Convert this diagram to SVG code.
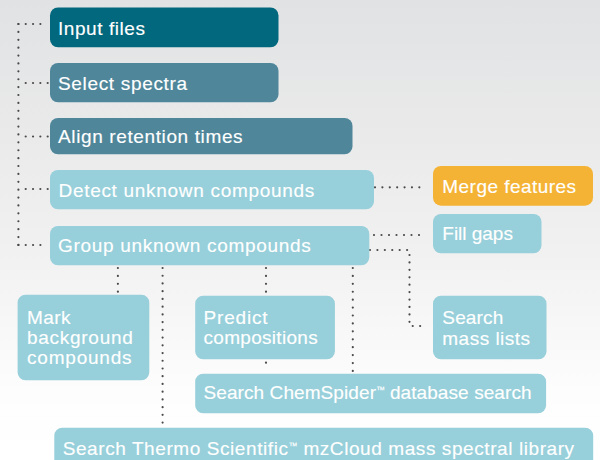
<svg xmlns="http://www.w3.org/2000/svg" width="600" height="460" viewBox="0 0 600 460">
  <defs>
    <linearGradient id="bg" x1="0" y1="0" x2="0" y2="1">
      <stop offset="0" stop-color="#e1e2e3"/>
      <stop offset="0.55" stop-color="#f1f1f1"/>
      <stop offset="0.85" stop-color="#fdfdfd"/>
      <stop offset="1" stop-color="#ffffff"/>
    </linearGradient>
  </defs>
  <style>
    .box { stroke: none; }
    .dark { fill: #02687e; }
    .mid { fill: #4f869a; }
    .light { fill: #97cfda; }
    .orange { fill: #f5b335; }
    text { font-family: "Liberation Sans", Arial, Helvetica, sans-serif; font-size: 19px; fill: #ffffff; letter-spacing: 0.6px; stroke: #ffffff; stroke-width: 0.15; }
    .tm { font-size: 9px; letter-spacing: 0; }
    .dot { fill: none; stroke: #4a4a4a; stroke-width: 2.2; stroke-linecap: round; stroke-dasharray: 0 7.7; }
  </style>

  <rect x="0" y="0" width="600" height="460" fill="url(#bg)"/>

  <!-- dotted connectors -->
  <g id="connectors">
    <path class="dot" style="stroke-dasharray:0 7.89" d="M18.4 24 V245"/>
    <path class="dot" style="stroke-dasharray:0 7.33" d="M18.4 24 H47.7"/>
    <path class="dot" style="stroke-dasharray:0 7.33" d="M25.7 83 H47.7"/>
    <path class="dot" style="stroke-dasharray:0 7.33" d="M25.7 136.5 H47.7"/>
    <path class="dot" style="stroke-dasharray:0 7.33" d="M25.7 189 H47.7"/>
    <path class="dot" style="stroke-dasharray:0 7.33" d="M18.4 245 H47.7"/>
    <path class="dot" style="stroke-dasharray:0 7.39" d="M375 187.3 H426.7"/>
    <path class="dot" style="stroke-dasharray:0 7.5" d="M374 235 H426.5"/>
    <path class="dot" style="stroke-dasharray:0 7.42" d="M370 250 H409.5 V326 H427.5"/>
    <path class="dot" style="stroke-dasharray:0 7.9" d="M117.9 268 V291.7"/>
    <path class="dot" style="stroke-dasharray:0 7.73" d="M162.6 268 V422.7"/>
    <path class="dot" style="stroke-dasharray:0 7.9" d="M266 268 V291.7"/>
    <path class="dot" style="stroke-dasharray:0 7.92" d="M352.8 268 V371"/>
    <path class="dot" style="stroke-dasharray:0 7.3" d="M266 362.7 V370"/>
  </g>

  <g id="input-files">
    <rect class="box dark" x="50" y="7.5" width="228.5" height="39.8" rx="8"/>
    <text x="58" y="34.5" textLength="87.6">Input files</text>
  </g>

  <g id="select-spectra">
    <rect class="box mid" x="50" y="63" width="228.5" height="39.3" rx="8"/>
    <text x="58" y="89.5" textLength="129.7">Select spectra</text>
  </g>

  <g id="align-retention-times">
    <rect class="box mid" x="50" y="118" width="302.5" height="36.3" rx="8"/>
    <text x="58" y="142.7" textLength="185.2">Align retention times</text>
  </g>

  <g id="detect-unknown-compounds">
    <rect class="box light" x="50" y="170" width="324" height="39.3" rx="8"/>
    <text x="58.5" y="196.7" textLength="256.4">Detect unknown compounds</text>
  </g>

  <g id="merge-features">
    <rect class="box orange" x="433" y="166" width="160" height="39.7" rx="8"/>
    <text x="442.3" y="193.3" textLength="134.3">Merge features</text>
  </g>

  <g id="group-unknown-compounds">
    <rect class="box light" x="50" y="226" width="319.3" height="39.3" rx="8"/>
    <text x="58" y="252.3" textLength="253.3">Group unknown compounds</text>
  </g>

  <g id="fill-gaps">
    <rect class="box light" x="433" y="214" width="108.5" height="39.3" rx="8"/>
    <text x="442.3" y="240" textLength="71.2">Fill gaps</text>
  </g>

  <g id="mark-background-compounds">
    <rect class="box light" x="17.6" y="294.7" width="131.7" height="85.6" rx="8"/>
    <text x="27" y="324" textLength="44">Mark</text>
    <text x="27" y="344.3" textLength="106.4">background</text>
    <text x="27" y="364.3" textLength="105.2">compounds</text>
  </g>

  <g id="predict-compositions">
    <rect class="box light" x="195.2" y="295.7" width="139.7" height="63.6" rx="8"/>
    <text x="203.5" y="324.3" textLength="64.7">Predict</text>
    <text x="203.5" y="344.3" textLength="114.8">compositions</text>
  </g>

  <g id="search-mass-lists">
    <rect class="box light" x="433" y="295.7" width="113.5" height="63.6" rx="8"/>
    <text x="442.3" y="324" textLength="61.6">Search</text>
    <text x="442.3" y="344.5" textLength="88.4">mass lists</text>
  </g>

  <g id="search-chemspider">
    <rect class="box light" x="195.2" y="373.7" width="350.9" height="39.6" rx="8"/>
    <text x="203.5" y="399.3" textLength="328.7">Search ChemSpider<tspan class="tm" dy="-6">™</tspan><tspan dy="6"> database search</tspan></text>
  </g>

  <g id="search-mzcloud">
    <rect class="box light" x="54.3" y="427.7" width="538.9" height="45" rx="8"/>
    <text x="62.7" y="454.5" textLength="512">Search Thermo Scientific<tspan class="tm" dy="-6">™</tspan><tspan dy="6"> mzCloud mass spectral library</tspan></text>
  </g>
</svg>
